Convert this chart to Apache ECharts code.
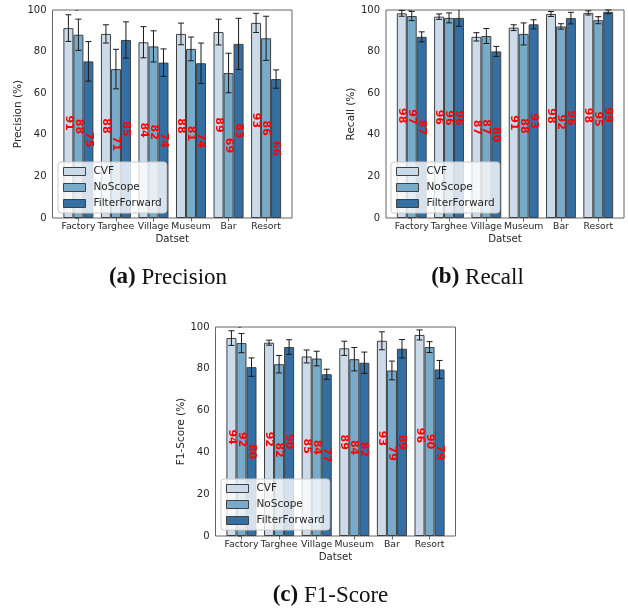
<!DOCTYPE html>
<html>
<head>
<meta charset="utf-8">
<script src="https://cdn.jsdelivr.net/npm/echarts@6/dist/echarts.min.js"></script>
<style>
  html, body { margin: 0; padding: 0; background: #fff; }
  #chart { width: 628px; height: 611px; }
</style>
</head>
<body>
<div id="chart"></div>
<script>
// datasets on the x axis
const categories = ['Factory', 'Targhee', 'Village', 'Museum', 'Bar', 'Resort']
const models = ['CVF', 'NoScope', 'FilterForward']
const yTicks = [0, 20, 40, 60, 80, 100]

// (a) precision, mean and error bar half length
const precisionCVF = [91.3, 88.5, 84.5, 88.5, 89.4, 93.8]
const precisionNoScope = [88.1, 71.6, 82.5, 81.3, 69.7, 86.4]
const precisionFF = [75.3, 85.6, 74.7, 74.4, 83.7, 66.8]
const precisionCVFErr = [6.4, 4.4, 7.5, 5.2, 6.2, 4.6]
const precisionNoScopeErr = [7.5, 9.5, 7.5, 5.7, 9.5, 10.6]
const precisionFFErr = [9.5, 8.7, 6.6, 9.7, 12.3, 4.4]

// (b) recall
const recallCVF = [98.4, 96.8, 87.1, 91.5, 98.1, 98.6]
const recallNoScope = [97.1, 96.2, 87.5, 88.5, 92.1, 95.1]
const recallFF = [87.1, 96.2, 80.1, 93.1, 96.1, 99.1]
const recallCVFErr = [1.4, 1.3, 2.0, 1.4, 1.2, 1.0]
const recallNoScopeErr = [2.2, 2.4, 3.6, 5.3, 1.3, 1.7]
const recallFFErr = [2.4, 4.0, 2.4, 2.2, 2.8, 0.9]

// (c) f1-score
const f1CVF = [94.7, 92.5, 85.9, 89.8, 93.4, 96.2]
const f1NoScope = [92.3, 82.2, 84.9, 84.6, 79.2, 90.4]
const f1FF = [80.8, 90.4, 77.4, 82.9, 89.6, 79.7]
const f1CVFErr = [3.5, 1.2, 3.1, 3.4, 4.3, 2.4]
const f1NoScopeErr = [4.6, 4.2, 3.5, 5.6, 4.5, 2.6]
const f1FFErr = [4.4, 3.5, 2.4, 5.1, 4.4, 4.3]

const colors = ['#cbdbea', '#78abc9', '#346fa3']
const edgeColor = '#404040'
const textColor = '#262626'
const font = 'DejaVu Sans'
const barW = 0.8 / 3 // in x units, like matplotlib width

const panels = [
  {
    yName: 'Precision (%)', caption: ['(a)', 'Precision'],
    values: [precisionCVF, precisionNoScope, precisionFF],
    errs: [precisionCVFErr, precisionNoScopeErr, precisionFFErr],
    grid: { left: 52.5, right: 336, top: 10, bottom: 393 },
    nameGap: 27, legend: { left: 58, top: 162 }, captionPos: { x: 163, y: 261 }
  },
  {
    yName: 'Recall (%)', caption: ['(b)', 'Recall'],
    values: [recallCVF, recallNoScope, recallFF],
    errs: [recallCVFErr, recallNoScopeErr, recallFFErr],
    grid: { left: 386, right: 4, top: 10, bottom: 393 },
    nameGap: 27.5, legend: { left: 391, top: 162 }, captionPos: { x: 472.5, y: 261 }
  },
  {
    yName: 'F1-Score (%)', caption: ['(c)', 'F1-Score'],
    values: [f1CVF, f1NoScope, f1FF],
    errs: [f1CVFErr, f1NoScopeErr, f1FFErr],
    grid: { left: 215.5, right: 172.5, top: 327, bottom: 75 },
    nameGap: 27, legend: { left: 221, top: 479 }, captionPos: { x: 325.5, y: 579 }
  }
]

const grid = []
const xAxis = []
const yAxis = []
const series = []
const legend = []
const title = []

panels.forEach(function(p, gi) {
  grid.push(Object.assign({
    show: true, borderColor: '#666', borderWidth: 1, backgroundColor: 'transparent', containLabel: false
  }, p.grid))

  xAxis.push({
    type: 'value', gridIndex: gi, min: -0.69, max: 5.69,
    name: 'Datset', nameLocation: 'middle', nameGap: 16,
    nameTextStyle: { fontSize: 10.2, color: textColor, fontFamily: font },
    axisLine: { show: false },
    splitLine: { show: false },
    axisTick: { show: true, length: 3.5, customValues: [0, 1, 2, 3, 4, 5], lineStyle: { color: '#666' } },
    axisLabel: {
      customValues: [0, 1, 2, 3, 4, 5], margin: 4,
      fontSize: 9.3, color: textColor, fontFamily: font,
      formatter: function(v) { return categories[Math.round(v)] }
    }
  })

  yAxis.push({
    type: 'value', gridIndex: gi, min: 0, max: 100, interval: 20,
    name: p.yName, nameLocation: 'middle', nameGap: p.nameGap, nameRotate: 90,
    nameTextStyle: { fontSize: 10.5, color: textColor, fontFamily: font },
    axisLine: { show: false },
    splitLine: { show: false },
    axisTick: { show: true, length: 3.5, lineStyle: { color: '#666' } },
    axisLabel: { margin: 6, fontSize: 10, color: textColor, fontFamily: font }
  })

  models.forEach(function(m, k) {
    const vals = p.values[k]
    const errs = p.errs[k]
    series.push({
      type: 'bar', name: m, xAxisIndex: gi, yAxisIndex: gi,
      barWidth: (barW * 100) + '%', barGap: '0%',
      data: vals.map(function(v, i) { return [i, v] }),
      itemStyle: { color: colors[k], borderColor: edgeColor, borderWidth: 1 },
      label: {
        show: true, position: 'inside', rotate: -90,
        color: '#ff0000', fontWeight: 'bold', fontSize: 11, fontFamily: font,
        formatter: function(d) { return String(Math.floor(d.value[1])) }
      },
      z: 2
    })
    series.push({
      type: 'custom', name: m + ' err', xAxisIndex: gi, yAxisIndex: gi,
      data: vals.map(function(v, i) { return [i, v, errs[i]] }),
      z: 3, silent: true,
      renderItem: function(params, api) {
        const x = api.value(0) + (k - 1) * barW
        const v = api.value(1)
        const e = api.value(2)
        const hi = Math.min(v + e, 100)
        const top = api.coord([x, hi])
        const bot = api.coord([x, v - e])
        const cap = 3
        const st = { stroke: '#1a1a1a', lineWidth: 1 }
        const kids = [
          { type: 'line', shape: { x1: top[0], y1: top[1], x2: bot[0], y2: bot[1] }, style: st },
          { type: 'line', shape: { x1: bot[0] - cap, y1: bot[1], x2: bot[0] + cap, y2: bot[1] }, style: st }
        ]
        if (v + e <= 100) {
          kids.push({ type: 'line', shape: { x1: top[0] - cap, y1: top[1], x2: top[0] + cap, y2: top[1] }, style: st })
        }
        return { type: 'group', children: kids }
      }
    })
  })

  legend.push({
    left: p.legend.left, top: p.legend.top, orient: 'vertical',
    data: models, icon: 'rect', itemWidth: 22, itemHeight: 8, itemGap: 4,
    padding: [3.5, 5, 3.5, 5],
    backgroundColor: 'rgba(255,255,255,0.8)', borderColor: '#cccccc', borderWidth: 1, borderRadius: 3,
    textStyle: { fontSize: 10.5, lineHeight: 12, color: textColor, fontFamily: font, padding: [0, 0, 0, 3] },
    itemStyle: { borderColor: edgeColor, borderWidth: 1 }
  })

  title.push({
    text: '{b|' + p.caption[0] + '} ' + p.caption[1],
    left: p.captionPos.x, top: p.captionPos.y, textAlign: 'center',
    textStyle: {
      fontFamily: 'Liberation Serif', fontSize: 23, fontWeight: 'normal', color: '#111',
      rich: { b: { fontFamily: 'Liberation Serif', fontSize: 23, fontWeight: 'bold', color: '#111' } }
    }
  })
})

const chart = echarts.init(document.getElementById('chart'))
chart.setOption({
  animation: false,
  backgroundColor: '#fff',
  title: title,
  legend: legend,
  grid: grid,
  xAxis: xAxis,
  yAxis: yAxis,
  series: series
})
</script>
</body>
</html>
